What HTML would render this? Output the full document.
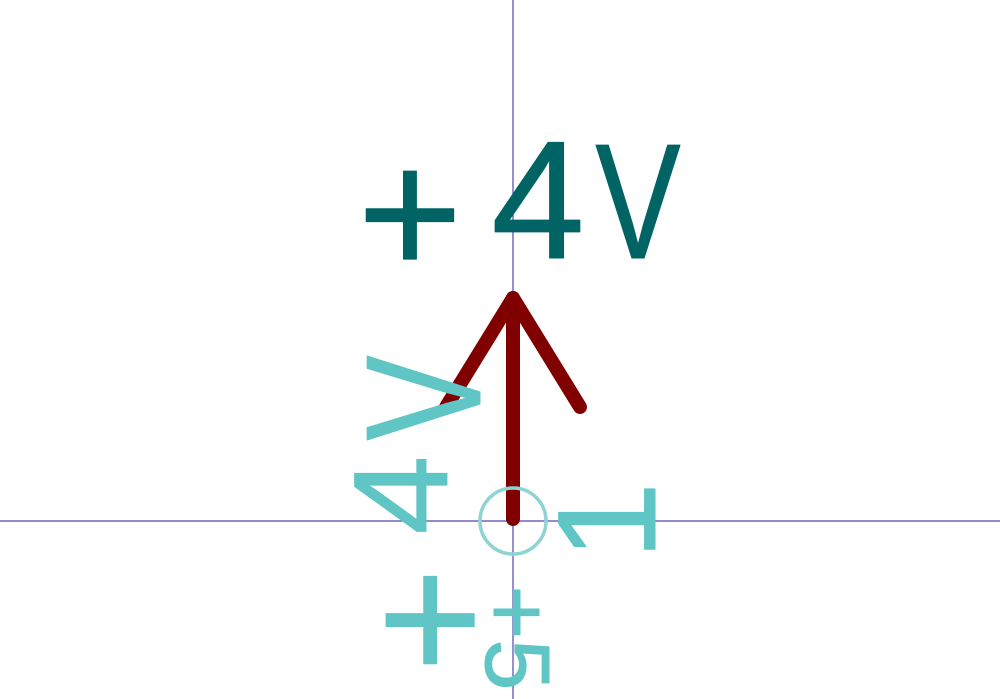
<!DOCTYPE html>
<html><head><meta charset="utf-8"><style>
html,body{margin:0;padding:0;background:#fff;}
svg{display:block;}
text{font-family:"Liberation Sans",sans-serif;}
</style></head><body>
<svg width="1000" height="699" viewBox="0 0 1000 699">
  <line x1="513" y1="0" x2="513" y2="699" stroke="#5048b0" stroke-width="1.2"/>
  <line x1="0" y1="521" x2="1000" y2="521" stroke="#5048b0" stroke-width="1.2"/>

  <g fill="#006464" stroke="#006464" stroke-width="1" stroke-linejoin="round">
    <text x="410" y="275" font-size="180" text-anchor="middle">+</text>
    <text x="538" y="258" font-size="168" text-anchor="middle">4</text>
    <text x="0" y="0" font-size="164" text-anchor="middle" transform="translate(638,258) scale(0.78,1)">V</text>
  </g>

  <g stroke="#800000" stroke-width="14" stroke-linecap="round" stroke-linejoin="round" fill="none">
    <line x1="513" y1="519" x2="513" y2="298"/>
    <polyline points="446,407 513,298 580,407"/>
  </g>

  <circle cx="513" cy="521" r="33" fill="none" stroke="#8fd3d3" stroke-width="3.5"/>

  <g fill="#5fc5c5" stroke="#5fc5c5" stroke-width="1" stroke-linejoin="round">
    <text transform="translate(480,398) rotate(-90) scale(0.78,1)" font-size="164" text-anchor="middle" x="0" y="0">V</text>
    <text transform="translate(447,495) rotate(-90) scale(0.85,0.8)" font-size="168" text-anchor="middle" x="0" y="0">4</text>
    <text transform="translate(490,620) rotate(-90)" font-size="180" text-anchor="middle" x="0" y="0">+</text>
  </g>
  <g fill="#5fc5c5" stroke="#5fc5c5" stroke-width="1" stroke-linejoin="round">
    <text transform="translate(655,521) rotate(-90)" font-size="140" text-anchor="middle" x="0" y="0">1</text>
    <text transform="translate(486,638) rotate(90)" font-size="92" text-anchor="middle" x="0" y="0">+5</text>
  </g>
</svg>
</body></html>
